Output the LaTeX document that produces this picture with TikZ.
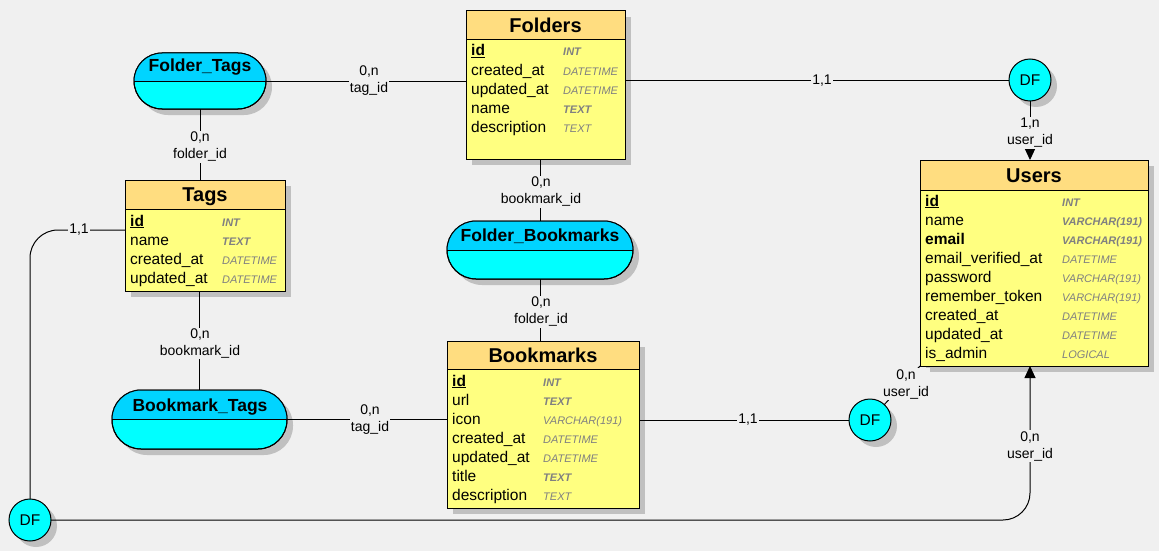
\documentclass[tikz,border=0pt]{standalone}
\usepackage{fontspec}
\setmainfont{Liberation Sans}
\usetikzlibrary{shadows,arrows.meta}
\definecolor{bg}{RGB}{240,240,240}
\definecolor{hdr}{RGB}{255,221,128}
\definecolor{bdy}{RGB}{255,255,128}
\definecolor{rtop}{RGB}{0,212,255}
\definecolor{rbot}{RGB}{0,255,255}
\definecolor{shd}{RGB}{192,192,192}
\definecolor{typ}{RGB}{128,128,128}
\newcommand{\keyid}[1]{\textbf{#1}\llap{\rule[-2.2pt]{\widthof{\textbf{#1}}}{1.4pt}}}
\usepackage{calc}
\tikzset{
 shadowed/.style={drop shadow={shadow xshift=6pt,shadow yshift=-6pt,fill=shd,opacity=1}},
 entbody/.style={draw,fill=bdy,line width=1pt,inner sep=0pt,outer sep=0pt,anchor=north west,shadowed},
 enthead/.style={draw,fill=hdr,line width=1pt,inner sep=0pt,outer sep=0pt,anchor=north west,text height=14.4pt,text depth=0pt,font=\fontsize{20}{22}\selectfont\bfseries},
 attr/.style={anchor=base west,inner sep=0pt,font=\fontsize{15.5}{17}\selectfont},
 atype/.style={anchor=base west,inner sep=0pt,text=typ,font=\fontsize{11}{12}\selectfont\itshape},
 relbox/.style={draw,fill=rbot,line width=1pt,inner sep=0pt,outer sep=0pt,anchor=north west,shadowed},
 reltitle/.style={anchor=base,inner sep=0pt,font=\fontsize{17.5}{19}\selectfont\bfseries},
 dfnode/.style={circle,draw,fill=rbot,line width=1pt,minimum size=42pt,inner sep=0pt,outer sep=0pt,shadowed,font=\fontsize{15.5}{17}\selectfont},
 card/.style={fill=bg,inner sep=1pt,align=center,font=\fontsize{14}{17}\selectfont},
 conn/.style={line width=1pt,draw=black},
 toarrow/.style={-{Triangle[width=11pt,length=12pt]}},
}
\begin{document}
\begin{tikzpicture}[x=1pt,y=-1pt]
\useasboundingbox (0,0) rectangle (1159,551);
\fill[bg] (0,0) rectangle (1159,551);

% ---------- Folders ----------
\node[entbody,minimum width=159pt,minimum height=148pt] (folders) at (466,11) {};
\node[enthead,minimum width=159pt,minimum height=29pt] (folders-h) at (466,11) {Folders};
\foreach \n/\t [count=\i] in {{\keyid{id}}/{\bfseries INT},created\_at/DATETIME,updated\_at/DATETIME,name/{\bfseries TEXT},description/TEXT}{
  \node[attr] (folders-n\i) at (471,{37+19*\i}) {\n};
  \node[atype] (folders-t\i) at (563,{37+19*\i}) {\t};
}

% ---------- Tags ----------
\node[entbody,minimum width=160pt,minimum height=111pt] (tags) at (125,180) {};
\node[enthead,minimum width=160pt,minimum height=29pt] (tags-h) at (125,180) {Tags};
\foreach \n/\t [count=\i] in {{\keyid{id}}/{\bfseries INT},name/{\bfseries TEXT},created\_at/DATETIME,updated\_at/DATETIME}{
  \node[attr] (tags-n\i) at (130,{207+19*\i}) {\n};
  \node[atype] (tags-t\i) at (222,{207+19*\i}) {\t};
}

% ---------- Bookmarks ----------
\node[entbody,minimum width=192pt,minimum height=167pt] (bmarks) at (447,341) {};
\node[enthead,minimum width=192pt,minimum height=28pt] (bmarks-h) at (447,341) {Bookmarks};
\foreach \n/\t [count=\i] in {{\keyid{id}}/{\bfseries INT},url/{\bfseries TEXT},icon/VARCHAR(191),created\_at/DATETIME,updated\_at/DATETIME,title/{\bfseries TEXT},description/TEXT}{
  \node[attr] (bmarks-n\i) at (452,{367+19*\i}) {\n};
  \node[atype] (bmarks-t\i) at (543,{367+19*\i}) {\t};
}

% ---------- Users ----------
\node[entbody,minimum width=228pt,minimum height=206pt] (users) at (920,160) {};
\node[enthead,minimum width=228pt,minimum height=30pt] (users-h) at (920,160) {Users};
\foreach \n/\t [count=\i] in {{\keyid{id}}/{\bfseries VARCHAR(191)},name/{\bfseries VARCHAR(191)},{\textbf{email}}/{\bfseries VARCHAR(191)},email\_verified\_at/DATETIME,password/VARCHAR(191),remember\_token/VARCHAR(191),created\_at/DATETIME,updated\_at/DATETIME,is\_admin/LOGICAL}{
  \node[attr] (users-n\i) at (925,{187+19*\i}) {\n};
  \node[atype] (users-t\i) at (1062,{187+19*\i}) {\ifnum\i=1 \bfseries INT\else\t\fi};
}

% ---------- Relationships ----------
\node[relbox,minimum width=132pt,minimum height=56pt,rounded corners=28pt] (ftags) at (134,53) {};
\begin{scope}
  \clip (ftags.north west) rectangle (ftags.east);
  \fill[rtop,rounded corners=28pt] (ftags.north west) rectangle (ftags.south east);
\end{scope}
\draw[conn,rounded corners=28pt] (ftags.north west) rectangle (ftags.south east);
\draw[conn] (ftags.west) -- (ftags.east);
\node[reltitle] (ftags-t) at (200,71.7) {Folder\_Tags};

\node[relbox,minimum width=186pt,minimum height=58pt,rounded corners=29pt] (fbm) at (447,221) {};
\begin{scope}
  \clip (fbm.north west) rectangle (fbm.east);
  \fill[rtop,rounded corners=29pt] (fbm.north west) rectangle (fbm.south east);
\end{scope}
\draw[conn,rounded corners=29pt] (fbm.north west) rectangle (fbm.south east);
\draw[conn] (fbm.west) -- (fbm.east);
\node[reltitle] (fbm-t) at (540,241.7) {Folder\_Bookmarks};

\node[relbox,minimum width=175pt,minimum height=59pt,rounded corners=29pt] (btags) at (112,390) {};
\begin{scope}
  \clip (btags.north west) rectangle (btags.east);
  \fill[rtop,rounded corners=29pt] (btags.north west) rectangle (btags.south east);
\end{scope}
\draw[conn,rounded corners=29pt] (btags.north west) rectangle (btags.south east);
\draw[conn] (btags.west) -- (btags.east);
\node[reltitle] (btags-t) at (200,411.7) {Bookmark\_Tags};

% ---------- DF nodes ----------
\node[dfnode] (dft) at (1030,80) {DF};
\node[dfnode] (dfm) at (870,420) {DF};
\node[dfnode] (dfl) at (30,520) {DF};

% ---------- Connectors ----------
\draw[conn] (ftags.east) -- (ftags.east -| folders.west);
\draw[conn] (folders.east |- dft.west) -- (dft.west);
\draw[conn,toarrow] (dft.south) -- (dft.south |- users.north);
\draw[conn] (ftags.south) -- (ftags.south |- tags.north);
\draw[conn] (btags.north |- tags.south) -- (btags.north);
\draw[conn] (btags.east) -- (btags.east -| bmarks.west);
\draw[conn] (fbm.north |- folders.south) -- (fbm.north);
\draw[conn] (fbm.south) -- (fbm.south |- bmarks.north);
\draw[conn] (bmarks.east |- dfm.west) -- (dfm.west);
\draw[conn] (dfm) -- (users.south west);
\coordinate (tagsout) at ([yshift=5.5pt]tags.west);
\draw[conn,rounded corners=28pt] (tagsout) -- (tagsout -| dfl.north) -- (dfl.north);
\draw[conn,rounded corners=27pt,toarrow] (dfl.east) -- (dfl.east -| dft.south) -- (dft.south |- users.south);

% ---------- Cardinality labels ----------
\node[card] (c1) at (369,81) {0,n\\tag\_id};
\node[card] (c2) at (200,147) {0,n\\folder\_id};
\node[card] (c3) at (200,343.5) {0,n\\bookmark\_id};
\node[card] (c4) at (370,420) {0,n\\tag\_id};
\node[card] (c5) at (541,192) {0,n\\bookmark\_id};
\node[card] (c6) at (541,312) {0,n\\folder\_id};
\node[card] (c7) at (1030,133) {1,n\\user\_id};
\node[card] (c8) at (1030,446) {0,n\\user\_id};
\node[card] (c9) at (906,384) {0,n\\user\_id};
\node[card] (c10) at (822,81) {1,1};
\node[card] (c11) at (748,420) {1,1};
\node[card] (c12) at (79,230) {1,1};
\end{tikzpicture}
\end{document}
